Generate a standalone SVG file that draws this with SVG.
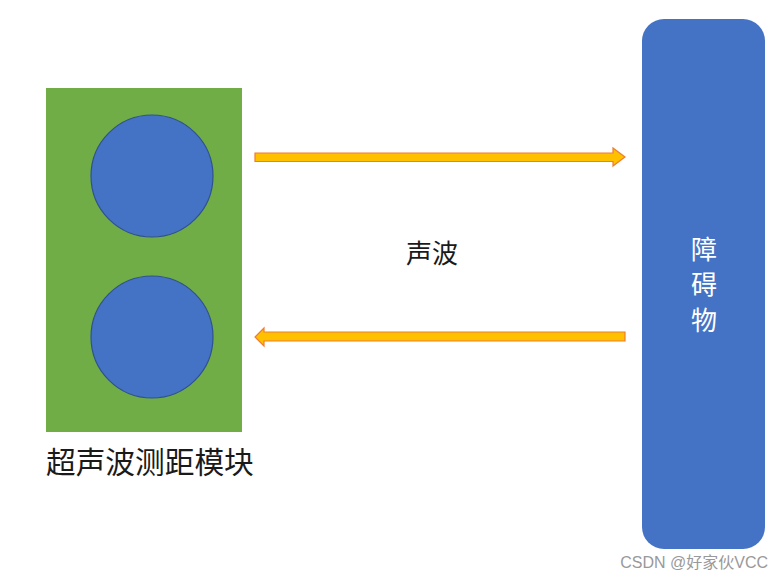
<svg xmlns="http://www.w3.org/2000/svg" width="784" height="579" viewBox="0 0 784 579">
<style>
.circ{fill:#4472C4;stroke:#2F528F;stroke-width:1.2}
.arrow{fill:#FFC000;stroke:#ED7D31;stroke-width:1.2}
.t{font-family:"Noto Sans CJK SC","Noto Sans",sans-serif}
</style>
<rect width="784" height="579" fill="#fff"/>
<g id="module">
<rect x="46" y="88" width="196" height="344" fill="#70AD47"/>
<circle class="circ" cx="152" cy="176" r="61"/>
<circle class="circ" cx="152" cy="337" r="61"/>
<text class="t" x="46" y="473" font-size="29.7" fill="#1a1a1a">超声波测距模块</text>
</g>
<g id="obstacle">
<rect x="642" y="19" width="123" height="530" rx="22" fill="#4472C4"/>
<text class="t" x="704" y="259" font-size="26" fill="#fff" text-anchor="middle">障</text>
<text class="t" x="704" y="294" font-size="26" fill="#fff" text-anchor="middle">碍</text>
<text class="t" x="704" y="330" font-size="26" fill="#fff" text-anchor="middle">物</text>
</g>
<g id="connectors">
<path class="arrow" d="M255 153 H613 V148 L625 157 L613 166 V161.5 H255 Z"/>
<path class="arrow" d="M625 332 H264 V328 L255 337 L264 346 V341 H625 Z"/>
</g>
<text class="t" x="432" y="263" font-size="26" fill="#1a1a1a" text-anchor="middle">声波</text>
<text x="768" y="568" font-size="16" fill="#999" text-anchor="end" font-family="'Liberation Sans','Noto Sans CJK SC',sans-serif">CSDN @好家伙VCC</text>
</svg>
